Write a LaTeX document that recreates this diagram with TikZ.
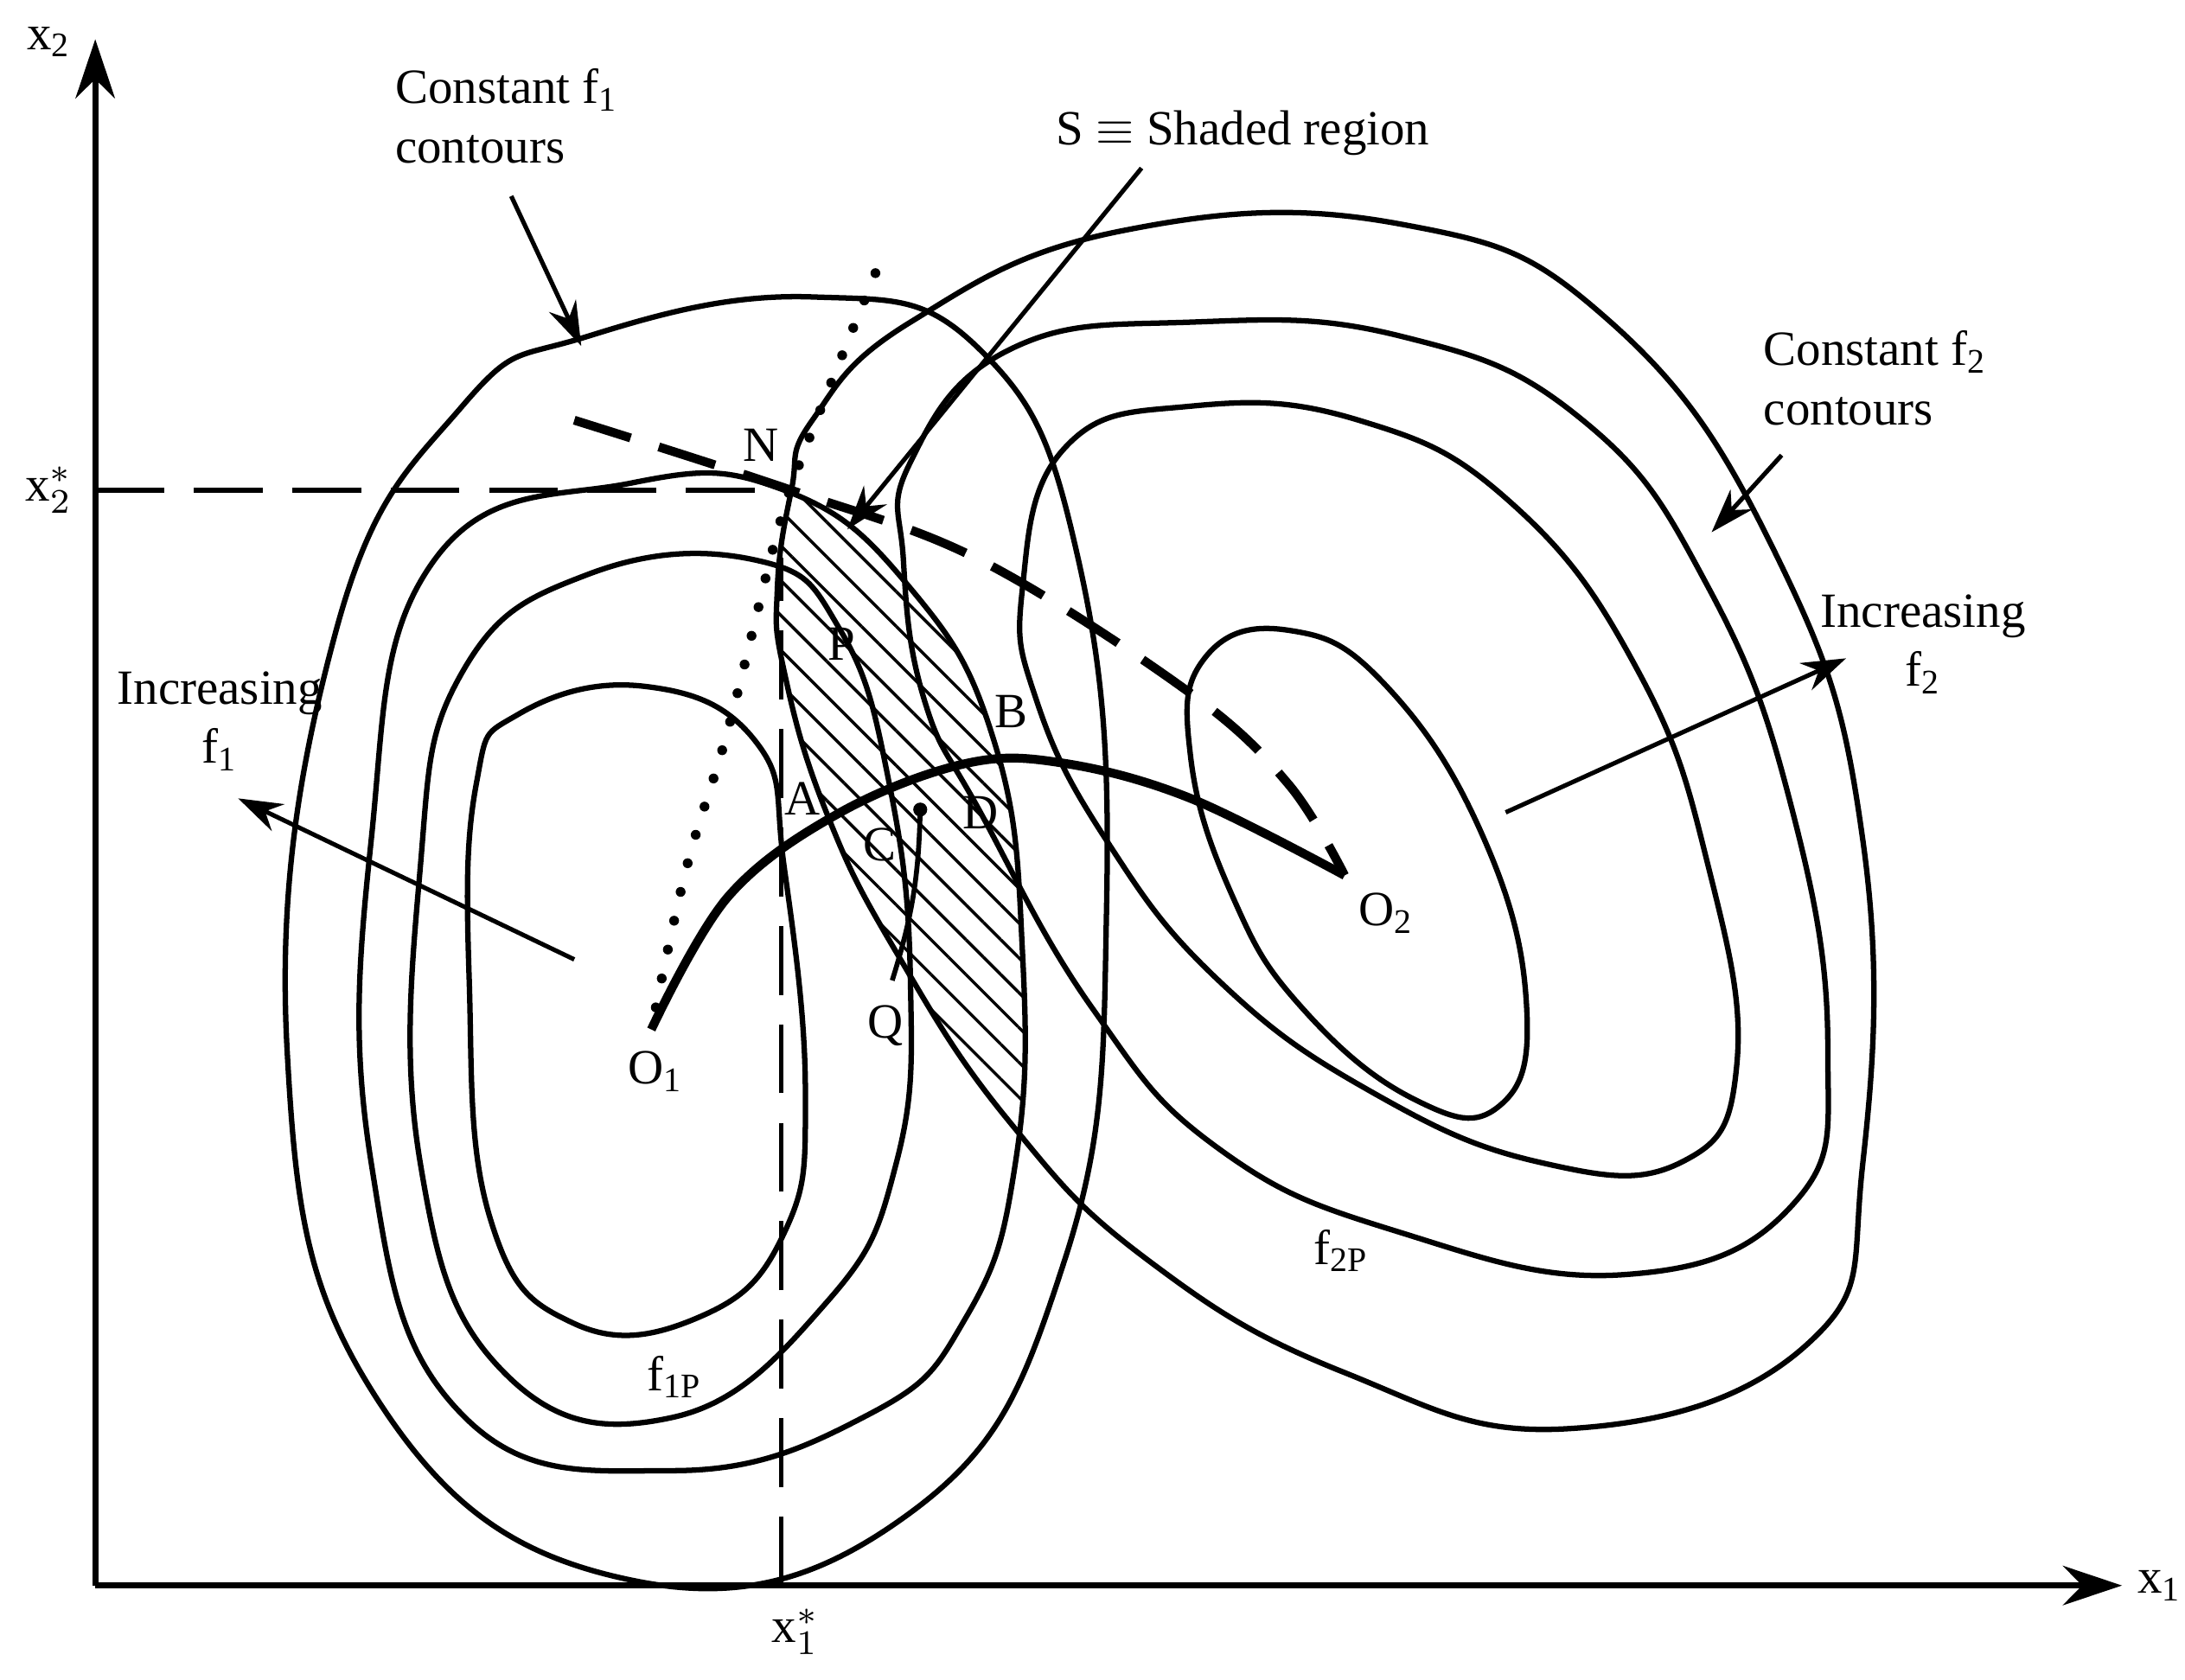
\documentclass[tikz,border=0pt]{standalone}
\usepackage{fontspec}
\setmainfont{Liberation Serif}
\usetikzlibrary{patterns.meta,arrows.meta}
\begin{document}
\begin{tikzpicture}[x=0.1mm,y=-0.1mm,
  cont/.style={line width=1.1pt},
  lab/.style={font=\fontsize{10}{12}\selectfont,inner sep=1pt},
  arr/.style={line width=0.9pt,-{Stealth[length=9pt,width=6pt]}}]
\useasboundingbox (0,0) rectangle (1560,1199);
% axes
\coordinate (o) at (68,1132);
\coordinate (ytop) at (68,28);
\coordinate (xend) at (1515,1132);
\draw[line width=1.2pt,-{Stealth[length=12pt,width=8pt]}] (o) -- (ytop);
\draw[line width=1.2pt,-{Stealth[length=12pt,width=8pt]}] (o) -- (xend);
\node[lab] (x2) at (35,30) {x\textsubscript{2}};
\node[lab,anchor=west] (x1) at (1522,1132) {x\textsubscript{1}};
\node[lab] (x2s) at (35,350) {x$_2^*$};
\node[lab] (x1s) at (568,1165) {x$_1^*$};
\coordinate (hd) at (68,350);
\coordinate (hd2) at (560,350);
\coordinate (vd) at (558,1132);
\coordinate (vd2) at (558,398);
\draw[dash pattern=on 14pt off 6pt,line width=0.9pt] (hd) -- (hd2);
\draw[dash pattern=on 14pt off 6pt,line width=0.9pt] (vd) -- (vd2);
% shading
\begin{scope}
\clip plot[smooth cycle,tension=0.75] coordinates {(565,350) (555,420) (560,480) (590,580) (640,680) (720,800) (820,900) (960,980) (1120,1020) (1290,960) (1330,830) (1330,600) (1270,400) (1150,230) (1000,160) (800,165) (650,230) (580,300)};
\fill[pattern={Lines[angle=-45,distance=5pt,line width=0.6pt]}] plot[smooth cycle,tension=0.75] coordinates {(310,400) (450,345) (560,350) (650,420) (710,530) (730,680) (725,830) (690,940) (620,1010) (480,1050) (330,1010) (265,830) (265,600)};
\end{scope}
% f1 contours
\draw[cont] plot[smooth cycle,tension=0.75] coordinates {(420,240) (580,212) (700,250) (770,400) (790,650) (760,900) (650,1080) (450,1128) (270,1000) (205,750) (240,450) (330,290)};
\draw[cont] plot[smooth cycle,tension=0.75] coordinates {(310,400) (450,345) (560,350) (650,420) (710,530) (730,680) (725,830) (690,940) (620,1010) (480,1050) (330,1010) (265,830) (265,600)};
\draw[cont] plot[smooth cycle,tension=0.75] coordinates {(330,480) (420,410) (540,400) (600,450) (635,560) (650,700) (640,830) (590,930) (480,1012) (360,980) (300,830) (300,620)};
\draw[cont] plot[smooth cycle,tension=0.75] coordinates {(370,510) (460,490) (540,530) (560,620) (575,780) (560,880) (500,940) (410,945) (350,870) (335,700) (340,560)};
% f2 contours
\draw[cont] plot[smooth cycle,tension=0.75] coordinates {(565,350) (555,420) (560,480) (590,580) (640,680) (720,800) (820,900) (960,980) (1120,1020) (1290,960) (1330,830) (1330,600) (1270,400) (1150,230) (1000,160) (800,165) (650,230) (580,300)};
\draw[cont] plot[smooth cycle,tension=0.75] coordinates {(650,330) (720,250) (850,230) (1000,240) (1130,300) (1220,420) (1280,580) (1305,750) (1280,860) (1160,910) (1000,880) (870,820) (780,720) (700,580) (660,500) (645,400)};
\draw[cont] plot[smooth cycle,tension=0.75] coordinates {(730,420) (760,320) (850,290) (970,300) (1080,360) (1170,480) (1220,620) (1240,760) (1200,830) (1100,830) (980,780) (870,700) (790,600) (740,500)};
\draw[cont] plot[smooth cycle,tension=0.75] coordinates {(860,470) (920,450) (990,490) (1060,600) (1090,720) (1070,790) (1010,785) (930,720) (880,640) (850,540)};
% special curves
\coordinate (O1) at (465,735);
\coordinate (O2) at (960,625);
\coordinate (dA) at (410,300);
\coordinate (dT) at (625,195);
\draw[line width=1.8pt,dash pattern=on 12pt off 6pt] plot[smooth,tension=0.6] coordinates {(dA) (565,350) (700,400) (850,495) (920,560) (O2)};
\draw[line width=2pt,dash pattern=on 0pt off 6pt,line cap=round] plot[smooth,tension=0.6] coordinates {(dT) (575,320) (555,380) (520,520) (490,620) (O1)};
\draw[line width=1.8pt] plot[smooth,tension=0.6] coordinates {(O1) (520,640) (600,580) (690,545) (760,545) (850,570) (O2)};
\coordinate (qe) at (657,578);
\coordinate (qs) at (637,700);
\draw[line width=1pt] (qs) to[bend right=8] (qe);
\fill (qe) circle (5);
% labels
\node[lab] (N) at (543,318) {N};
\node[lab] (P) at (601,460) {P};
\node[lab] (B) at (722,508) {B};
\node[lab] (A) at (573,570) {A};
\node[lab] (C) at (628,603) {C};
\node[lab] (D) at (700,580) {D};
\node[lab] (Q) at (632,732) {Q};
\node[lab] (o1) at (468,765) {O\textsubscript{1}};
\node[lab] (o2) at (990,652) {O\textsubscript{2}};
\node[lab] (f1p) at (482,983) {f\textsubscript{1P}};
\node[lab] (f2p) at (958,893) {f\textsubscript{2P}};
\node[lab,align=left,anchor=north west] (c1) at (278,45) {Constant f\textsubscript{1}\\contours};
\node[lab,anchor=west] (S) at (750,95) {S $\equiv$ Shaded region};
\node[lab,align=left,anchor=north west] (c2) at (1255,232) {Constant f\textsubscript{2}\\contours};
\node[lab,align=center] (i2) at (1373,460) {Increasing\\f\textsubscript{2}};
\node[lab,align=center] (i1) at (157,515) {Increasing\\f\textsubscript{1}};
% arrows
\coordinate (a1s) at (365,140); \coordinate (a1e) at (415,247);
\coordinate (a2s) at (815,120); \coordinate (a2e) at (605,378);
\coordinate (a3s) at (1272,325); \coordinate (a3e) at (1222,380);
\coordinate (a4s) at (1075,580); \coordinate (a4e) at (1318,470);
\coordinate (a5s) at (410,685); \coordinate (a5e) at (170,570);
\draw[arr] (a1s) -- (a1e);
\draw[arr] (a2s) -- (a2e);
\draw[arr] (a3s) -- (a3e);
\draw[arr] (a4s) -- (a4e);
\draw[arr] (a5s) -- (a5e);
\end{tikzpicture}
\end{document}
